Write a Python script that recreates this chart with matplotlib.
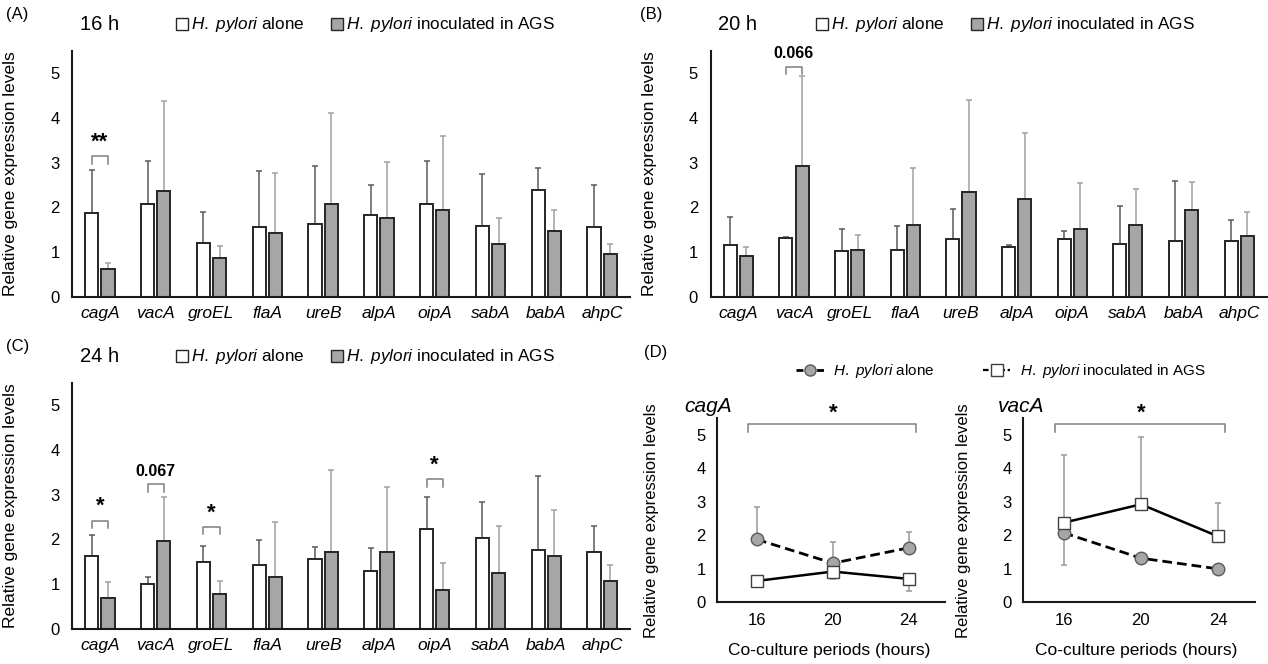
import matplotlib
matplotlib.use('Agg')
import matplotlib.pyplot as plt
import numpy as np
from matplotlib.patches import Patch
from matplotlib.lines import Line2D

plt.rcParams['font.family'] = ['Liberation Sans', 'DejaVu Sans']
plt.rcParams['mathtext.fontset'] = 'custom'
plt.rcParams['mathtext.rm'] = 'Liberation Sans'
plt.rcParams['mathtext.it'] = 'Liberation Sans:italic'

genes = ['cagA', 'vacA', 'groEL', 'flaA', 'ureB', 'alpA', 'oipA', 'sabA', 'babA', 'ahpC']

# 16 h
alone_16 = [1.87, 2.07, 1.21, 1.55, 1.62, 1.82, 2.07, 1.59, 2.38, 1.55]
alone_16_sd = [0.97, 0.97, 0.68, 1.27, 1.31, 0.69, 0.97, 1.16, 0.49, 0.94]
ags_16 = [0.63, 2.37, 0.86, 1.43, 2.07, 1.77, 1.93, 1.18, 1.46, 0.96]
ags_16_sd = [0.13, 2.01, 0.27, 1.33, 2.05, 1.24, 1.67, 0.57, 0.47, 0.23]

# 20 h
alone_20 = [1.16, 1.31, 1.02, 1.04, 1.28, 1.11, 1.29, 1.19, 1.25, 1.25]
alone_20_sd = [0.62, 0.03, 0.49, 0.55, 0.68, 0.05, 0.17, 0.85, 1.34, 0.47]
ags_20 = [0.91, 2.92, 1.04, 1.60, 2.35, 2.19, 1.51, 1.60, 1.95, 1.35]
ags_20_sd = [0.21, 2.01, 0.33, 1.28, 2.06, 1.47, 1.03, 0.80, 0.62, 0.54]

# 24 h
alone_24 = [1.62, 0.99, 1.49, 1.42, 1.57, 1.30, 2.22, 2.03, 1.77, 1.72]
alone_24_sd = [0.48, 0.16, 0.37, 0.57, 0.25, 0.50, 0.72, 0.81, 1.65, 0.57]
ags_24 = [0.69, 1.96, 0.78, 1.16, 1.72, 1.72, 0.87, 1.25, 1.63, 1.06]
ags_24_sd = [0.35, 0.99, 0.28, 1.23, 1.82, 1.44, 0.61, 1.05, 1.02, 0.37]

hours = [16, 20, 24]
yticks = [0, 1, 2, 3, 4, 5]

# significance annotations: (gene index, label, bracket base level)
sig_16 = [(0, '**', 2.97)]
sig_20 = [(1, '0.066', 4.98)]
sig_24 = [(0, '*', 2.25), (1, '0.067', 3.06), (2, '*', 2.11), (6, '*', 3.18)]

W, H = 1268, 664
fig = plt.figure(figsize=(W / 100, H / 100), dpi=100)

def fx(px):
    return px / W

def fy(py):
    return 1 - py / H

GRAY = '#a6a6a6'
EDGE = '#262626'
LAB = 'Relative gene expression levels'
leg_labels = [r'$\mathit{H.}$ $\mathit{pylori}$ alone',
              r'$\mathit{H.}$ $\mathit{pylori}$ inoculated in AGS']

def style_axes(ax):
    for s in ['top', 'right']:
        ax.spines[s].set_visible(False)
    for s in ['left', 'bottom']:
        ax.spines[s].set_linewidth(1.5)
        ax.spines[s].set_color('#1a1a1a')

def bar_panel(rect, alone, alone_sd, ags, ags_sd, sigs, tag, tag_xy, period, period_xy, leg_xy):
    ax = fig.add_axes(rect)
    x = np.arange(len(genes))
    w = 0.235
    off = 0.145
    ax.errorbar(x - off, alone, yerr=[np.zeros(len(x)), alone_sd], fmt='none',
                ecolor='#5a5a5a', elinewidth=1.1, capsize=2.5, capthick=1.1, zorder=1)
    ax.errorbar(x + off, ags, yerr=[np.zeros(len(x)), ags_sd], fmt='none',
                ecolor='#a0a0a0', elinewidth=1.1, capsize=2.5, capthick=1.1, zorder=1)
    ax.bar(x - off, alone, w, color='white', edgecolor=EDGE, linewidth=1.4, zorder=2)
    ax.bar(x + off, ags, w, color=GRAY, edgecolor=EDGE, linewidth=1.4, zorder=2)
    ax.set_xlim(-0.5, len(genes) - 0.5)
    ax.set_ylim(0, 5.5)
    ax.set_yticks(yticks)
    ax.set_xticks(x)
    ax.set_xticklabels(genes, style='italic', fontsize=12.5)
    ax.tick_params(axis='x', length=0, pad=7)
    ax.tick_params(axis='y', length=0, pad=9, labelsize=12)
    style_axes(ax)
    ax.set_ylabel(LAB, fontsize=12.5)
    ax.yaxis.set_label_coords(-0.097, 0.5)
    for gi, lab, base in sigs:
        h = 0.17
        ax.plot([gi - off, gi - off, gi + off, gi + off], [base, base + h, base + h, base],
                color='#7f7f7f', lw=1.1, zorder=3, clip_on=False)
        if lab.startswith('*'):
            ax.text(gi, base + h + 0.08, lab, ha='center', va='bottom', fontsize=16,
                    fontweight='bold')
        else:
            ax.text(gi, base + h + 0.12, lab, ha='center', va='bottom', fontsize=11.5,
                    fontweight='bold')
    fig.text(fx(tag_xy[0]), fy(tag_xy[1]), tag, fontsize=12, ha='left', va='center')
    fig.text(fx(period_xy[0]), fy(period_xy[1]), period, fontsize=14.5, ha='left', va='center')
    handles = [Patch(facecolor='white', edgecolor=EDGE, linewidth=1.0),
               Patch(facecolor=GRAY, edgecolor=EDGE, linewidth=1.0)]
    fig.legend(handles, leg_labels, loc='center left',
               bbox_to_anchor=(fx(leg_xy[0]), fy(leg_xy[1])), bbox_transform=fig.transFigure,
               ncol=2, frameon=False, fontsize=12.3, handlelength=0.7, handleheight=0.7,
               handletextpad=0.15, columnspacing=1.6, borderpad=0, borderaxespad=0)
    return ax

def rect(l, r, b, t):
    return [fx(l), fy(b), (r - l) / W, (b - t) / H]

bar_panel(rect(72, 630, 296.7, 50.9), alone_16, alone_16_sd, ags_16, ags_16_sd, sig_16,
          '(A)', (6, 14), '16 h', (80, 25), (176, 25))
bar_panel(rect(710.5, 1267, 296.7, 50.9), alone_20, alone_20_sd, ags_20, ags_20_sd, sig_20,
          '(B)', (640, 14), '20 h', (718, 25), (816, 25))
bar_panel(rect(72, 630, 628.7, 382.9), alone_24, alone_24_sd, ags_24, ags_24_sd, sig_24,
          '(C)', (6, 346), '24 h', (80, 357), (176, 357))

# Panel D: cagA and vacA over time, taken from the bar-chart data
alone_all = [alone_16, alone_20, alone_24]
alone_sd_all = [alone_16_sd, alone_20_sd, alone_24_sd]
ags_all = [ags_16, ags_20, ags_24]
ags_sd_all = [ags_16_sd, ags_20_sd, ags_24_sd]

d_genes = [0, 1]
d_rects = [rect(717, 945, 602, 418), rect(1023, 1255, 602, 418)]
d_alone_err_up = [True, False]

for k, gi in enumerate(d_genes):
    ax = fig.add_axes(d_rects[k])
    a = [alone_all[t][gi] for t in range(3)]
    asd = [alone_sd_all[t][gi] for t in range(3)]
    g = [ags_all[t][gi] for t in range(3)]
    gsd = [ags_sd_all[t][gi] for t in range(3)]
    z = np.zeros(3)
    if d_alone_err_up[k]:
        ea, eg = [z, asd], [gsd, z]
    else:
        ea, eg = [asd, z], [z, gsd]
    ax.errorbar(hours, a, yerr=ea, fmt='none', ecolor='#999999', elinewidth=1.1,
                capsize=2.5, capthick=1.1, zorder=1)
    ax.errorbar(hours, g, yerr=eg, fmt='none', ecolor='#999999', elinewidth=1.1,
                capsize=2.5, capthick=1.1, zorder=1)
    ax.plot(hours, a, color='black', lw=2, dashes=(3.5, 1.8), marker='o', ms=9,
            mfc=GRAY, mec='#595959', mew=1.0, zorder=3)
    ax.plot(hours, g, color='black', lw=1.8, marker='s', ms=8.5,
            mfc='white', mec='#404040', mew=1.0, zorder=4)
    ax.set_xlim(13.9, 25.9)
    ax.set_ylim(0, 5.5)
    ax.set_xticks(hours)
    ax.set_yticks(yticks)
    ax.tick_params(axis='x', length=0, pad=8, labelsize=12)
    ax.tick_params(axis='y', length=0, pad=8, labelsize=12)
    style_axes(ax)
    ax.set_ylabel(LAB, fontsize=12)
    ax.yaxis.set_label_coords(-0.255 if k == 0 else -0.225, 0.44)
    ax.set_xlabel('Co-culture periods (hours)', fontsize=12.5)
    ax.xaxis.set_label_coords(0.49, -0.225)
    ax.text(-0.145 if k == 0 else -0.11, 1.06, genes[gi], transform=ax.transAxes,
            style='italic', fontsize=15, ha='left', va='center')
    x1, x2 = 15.55, 24.35
    ax.plot([x1, x1, x2, x2], [5.07, 5.31, 5.31, 5.07], color='#7f7f7f', lw=1.1,
            clip_on=False)
    ax.text(hours[1], 5.33, '*', ha='center', va='bottom', fontsize=16,
            fontweight='bold')

d_handles = [Line2D([], [], color='black', lw=2, dashes=(2.5, 1.2), marker='o', ms=8,
                    mfc=GRAY, mec='#595959'),
             Line2D([], [], color='black', lw=1.6, dashes=(2.5, 1.2), marker='s', ms=8,
                    mfc='white', mec='#404040')]
fig.legend(d_handles, leg_labels, loc='center left',
           bbox_to_anchor=(fx(796), fy(371)), bbox_transform=fig.transFigure,
           ncol=2, frameon=False, fontsize=11, handlelength=1.8,
           handletextpad=0.6, columnspacing=3.2, borderpad=0, borderaxespad=0)
fig.text(fx(644), fy(352), '(D)', fontsize=12, ha='left', va='center')

fig.savefig('out.png', dpi=100)
